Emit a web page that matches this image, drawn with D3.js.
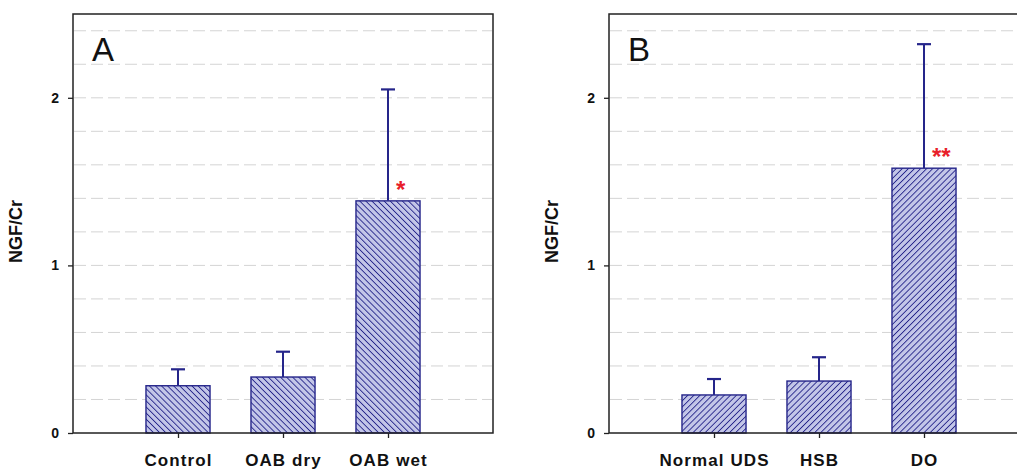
<!DOCTYPE html>
<html>
<head>
<meta charset="utf-8">
<script src="https://cdn.jsdelivr.net/npm/d3@7"></script>
<style>
  body { margin: 0; background: #fff; }
  svg { display: block; font-family: "Liberation Sans", Arial, sans-serif; }
</style>
</head>
<body>
<svg id="chart" width="1017" height="470"></svg>
<script>
// panel A
const catsA = ["Control", "OAB dry", "OAB wet"];
const meanA = [0.282, 0.334, 1.385];
const errA = [0.098, 0.151, 0.665];
const sigA = ["", "", "*"];

// panel B
const catsB = ["Normal UDS", "HSB", "DO"];
const meanB = [0.227, 0.31, 1.58];
const errB = [0.095, 0.142, 0.74];
const sigB = ["", "", "**"];

const yTicks = [0, 1, 2];
const yLabel = "NGF/Cr";

const navy = "#25258a";
let svg = d3.select("#chart");
let defs = svg.append("defs");

function hatch(id, angle) {
    let p = defs.append("pattern")
        .attr("id", id)
        .attr("patternUnits", "userSpaceOnUse")
        .attr("width", 4.3)
        .attr("height", 4.3)
        .attr("patternTransform", "rotate(" + angle + ")");
    p.append("rect").attr("width", 4.3).attr("height", 4.3).attr("fill", "#c3c6e8");
    p.append("line")
        .attr("x1", 0).attr("y1", 0).attr("x2", 0).attr("y2", 4.3)
        .attr("stroke", navy).attr("stroke-width", 1.8);
}
hatch("hatchA", -45);
hatch("hatchB", 45);

function drawPanel(left, letter, cats, means, errs, sigs, patId) {
    let width = 420, top = 14, bottom = 433;
    let g = svg.append("g");

    let x = d3.scaleLinear().domain([0, cats.length + 1]).range([left, left + width]);
    let y = d3.scaleLinear().domain([0, 2.5]).range([bottom, top]);

    // dashed grid
    g.selectAll(".grid")
        .data(y.ticks(12).filter(d => d > 0 && d < 2.5))
        .enter().append("line")
        .attr("x1", left + 1).attr("x2", left + width - 1)
        .attr("y1", d => y(d)).attr("y2", d => y(d))
        .attr("stroke", "#d4d4d4")
        .attr("stroke-width", 1)
        .attr("stroke-dasharray", "12,5");

    let bw = x(0.61) - x(0);

    // error bars
    let eb = g.selectAll(".err").data(means).enter().append("g");
    eb.append("line")
        .attr("x1", (d, i) => x(i + 1)).attr("x2", (d, i) => x(i + 1))
        .attr("y1", d => y(d)).attr("y2", (d, i) => y(d + errs[i]))
        .attr("stroke", navy).attr("stroke-width", 2);
    eb.append("line")
        .attr("x1", (d, i) => x(i + 1) - 7).attr("x2", (d, i) => x(i + 1) + 7)
        .attr("y1", (d, i) => y(d + errs[i])).attr("y2", (d, i) => y(d + errs[i]))
        .attr("stroke", navy).attr("stroke-width", 2.2);

    // bars
    g.selectAll(".bar").data(means).enter().append("rect")
        .attr("x", (d, i) => x(i + 1) - bw / 2)
        .attr("y", d => y(d))
        .attr("width", bw)
        .attr("height", d => bottom - y(d))
        .attr("fill", "url(#" + patId + ")")
        .attr("stroke", navy)
        .attr("stroke-width", 1.4);

    // significance marks
    g.selectAll(".sig").data(sigs).enter().append("text")
        .attr("x", (d, i) => x(i + 1) + 8)
        .attr("y", (d, i) => y(means[i]) - 3)
        .attr("fill", "#e8202a")
        .attr("font-size", 24)
        .attr("font-weight", "bold")
        .text(d => d);

    // frame
    g.append("rect")
        .attr("x", left).attr("y", top)
        .attr("width", width).attr("height", bottom - top)
        .attr("fill", "none").attr("stroke", "#222").attr("stroke-width", 1.5);

    // y axis
    let ya = g.append("g")
        .attr("transform", "translate(" + left + ",0)")
        .call(d3.axisLeft(y).tickValues(yTicks).tickFormat(d3.format("d")).tickSize(5).tickPadding(9));
    ya.select(".domain").remove();
    ya.selectAll("line").attr("stroke", "#222").attr("stroke-width", 1.3);
    ya.selectAll("text").attr("font-size", 14).attr("font-weight", "bold").attr("fill", "#111")
        .attr("font-family", "Liberation Sans, Arial, sans-serif");

    // x axis
    let xa = g.append("g")
        .attr("transform", "translate(0," + bottom + ")")
        .call(d3.axisBottom(x).tickValues(d3.range(1, cats.length + 1))
            .tickFormat(d => cats[d - 1]).tickSize(5).tickPadding(16));
    xa.select(".domain").remove();
    xa.selectAll("line").attr("stroke", "#222").attr("stroke-width", 1.3);
    xa.selectAll("text").attr("font-size", 17).attr("font-weight", "bold").attr("fill", "#111")
        .attr("letter-spacing", "1.1px")
        .attr("font-family", "Liberation Sans, Arial, sans-serif");

    // panel letter
    g.append("text")
        .attr("x", left + 19).attr("y", 61)
        .attr("font-size", 33)
        .attr("fill", "#111")
        .text(letter);

    // y label
    g.append("text")
        .attr("transform", "translate(" + (left - 51) + "," + ((top + bottom) / 2 + 8) + ") rotate(-90)")
        .attr("text-anchor", "middle")
        .attr("font-size", 18)
        .attr("font-weight", "bold")
        .attr("fill", "#111")
        .text(yLabel);
}

drawPanel(73, "A", catsA, meanA, errA, sigA, "hatchA");
drawPanel(609, "B", catsB, meanB, errB, sigB, "hatchB");
</script>
</body>
</html>
